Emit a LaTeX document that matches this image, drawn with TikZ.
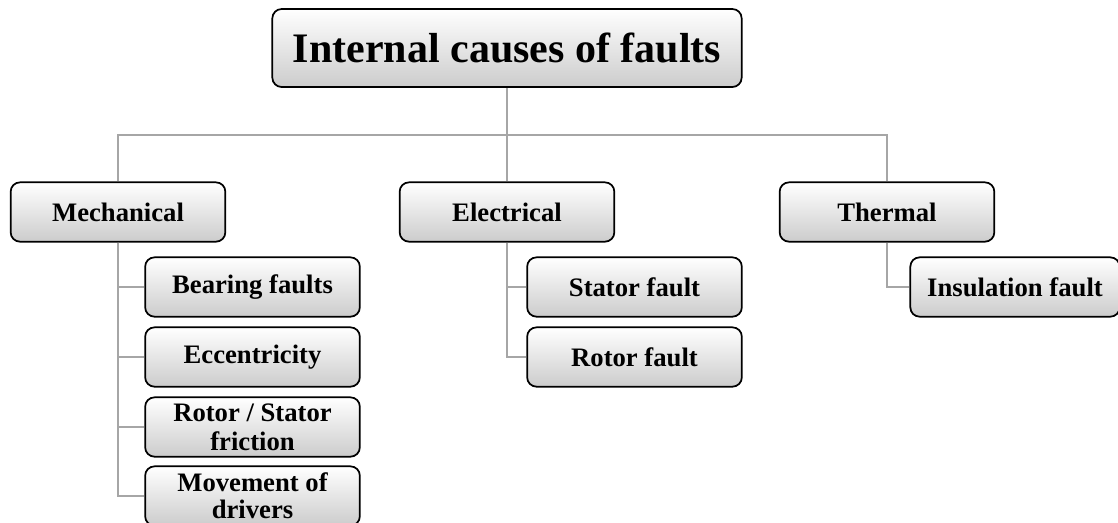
\documentclass[tikz,border=0pt]{standalone}
\usepackage{fontspec}
\setmainfont{Liberation Serif}
\usepackage{tikz}
\usetikzlibrary{positioning}

\begin{document}
\begin{tikzpicture}[x=7.5pt,y=-7.5pt]
\useasboundingbox (0,0) rectangle (111.8,52.2);
\begin{scope}[every node/.style={draw=black,line width=1.3pt,rounded corners=7pt,
                                 top color=white,bottom color=black!20,
                                 font=\bfseries\fontsize{20}{22}\selectfont,
                                 align=center,inner sep=0pt,
                                 minimum width=161pt,minimum height=44.5pt},
              big_box/.style={minimum width=352pt,minimum height=58.5pt,
                              font=\bfseries\fontsize{31.5}{34}\selectfont}]
    \node[big_box] (top) at (50.7,4.8) {Internal causes of faults};
    \node (mech) at (11.8,21.2) {Mechanical};
    \node (elec) at (50.7,21.2) {Electrical};
    \node (therm) at (88.7,21.2) {Thermal};
    \node (bear) at (25.25,28.7) {Bearing faults};
    \node (ecc) at (25.25,35.7) {Eccentricity};
    \node (fric) at (25.25,42.7) {Rotor / Stator\\friction};
    \node[font=\bfseries\fontsize{20}{21}\selectfont] (move) at (25.25,49.6)
        {Movement of\\[-1pt]drivers};
    \node (stat) at (63.45,28.7) {Stator fault};
    \node (rot) at (63.45,35.7) {Rotor fault};
    \node[minimum width=157pt] (insul) at (101.5,28.7) {Insulation fault};
\end{scope}
\coordinate (bus) at (50.7,13.5);
\begin{scope}[gray_edge/.style={draw=black!35,line width=1.6pt}]
    \path (top) edge [gray_edge] (bus);
    \draw [gray_edge] (bus) -| (mech.north);
    \draw [gray_edge] (bus) -- (elec.north);
    \draw [gray_edge] (bus) -| (therm.north);
    \draw [gray_edge] (mech.south) |- (bear.west);
    \draw [gray_edge] (mech.south) |- (ecc.west);
    \draw [gray_edge] (mech.south) |- (fric.west);
    \draw [gray_edge] (mech.south) |- (move.west);
    \draw [gray_edge] (elec.south) |- (stat.west);
    \draw [gray_edge] (elec.south) |- (rot.west);
    \draw [gray_edge] (therm.south) |- (insul.west);
\end{scope}
\end{tikzpicture}
\end{document}
